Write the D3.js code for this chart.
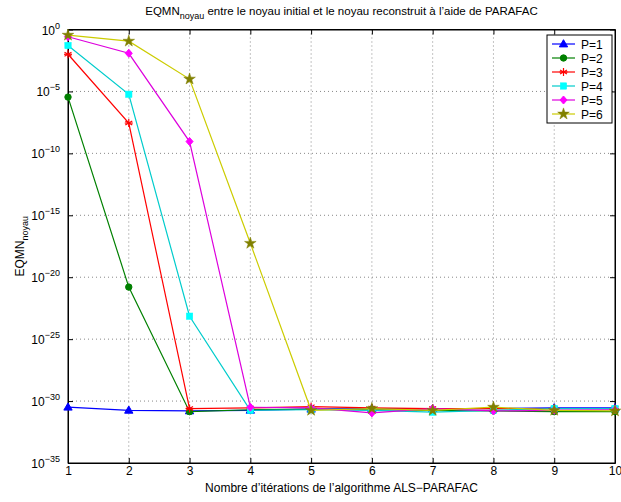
<!DOCTYPE html>
<html><head><meta charset="utf-8">
<script src="https://cdn.jsdelivr.net/npm/d3@7"></script>
<style>body{margin:0;background:#fff}svg{display:block;font-family:"Liberation Sans",Arial,sans-serif}</style>
</head><body>
<svg id="c" width="621" height="502"></svg>
<script>
const iterations = [1,2,3,4,5,6,7,8,9,10];
const seriesNames = ["P=1","P=2","P=3","P=4","P=5","P=6"];
const p1 = [3.2e-31,1.8e-31,1.6e-31,1.8e-31,2.2e-31,2.5e-31,2.5e-31,2.5e-31,2.8e-31,2.8e-31];
const p2 = [3.5e-6,1.6e-21,1.4e-31,2.0e-31,2.2e-31,2.0e-31,1.8e-31,1.6e-31,1.4e-31,1.4e-31];
const p3 = [1.0e-2,2.8e-8,2.5e-31,2.8e-31,3.5e-31,2.8e-31,2.5e-31,2.5e-31,2.5e-31,2.5e-31];
const p4 = [5.1e-2,5.9e-6,7.1e-24,1.8e-31,2.0e-31,1.8e-31,1.26e-31,1.8e-31,2.5e-31,2.5e-31];
const p5 = [0.26,1.2e-2,9e-10,3.2e-31,2.8e-31,1.1e-31,2.5e-31,1.6e-31,1.8e-31,2.0e-31];
const p6 = [0.35,0.115,1.0e-4,5.5e-18,1.8e-31,2.5e-31,1.8e-31,3.2e-31,1.8e-31,1.6e-31];
const yTickExponents = [0,-5,-10,-15,-20,-25,-30,-35];
const xTicks = [1,2,3,4,5,6,7,8,9,10];
const lineColors = ["#0000ff","#008000","#ff0000","#00cccc","#dd00dd","#cccc00"];
const markerColors = ["#0000ff","#008000","#ff0000","#00ffff","#ff00ff","#808000"];
const markerTypes = ["tri","circle","star6","square","diamond","pent"];
const allSeries = [p1,p2,p3,p4,p5,p6];

const L=68, R=615, T=29.5, B=463;
const svg = d3.select("#c");
const x = d3.scaleLinear().domain([1,10]).range([L,R]);
const y = d3.scaleLog().domain([1e-35,1]).range([B,T]);

// grid
const g = svg.append("g");
xTicks.slice(1,-1).forEach(t=>{
  g.append("line").attr("x1",x(t)).attr("x2",x(t)).attr("y1",T).attr("y2",B)
   .attr("stroke","#888").attr("stroke-width",1).attr("stroke-dasharray","1,3");
});
yTickExponents.slice(1,-1).forEach(e=>{
  g.append("line").attr("x1",L).attr("x2",R).attr("y1",y(Math.pow(10,e))).attr("y2",y(Math.pow(10,e)))
   .attr("stroke","#888").attr("stroke-width",1).attr("stroke-dasharray","1,3");
});

// axes with inward ticks
const xAxisB = d3.axisBottom(x).tickValues(xTicks).tickSizeInner(-5).tickSizeOuter(0).tickPadding(3).tickFormat(d3.format("d"));
const xAxisT = d3.axisTop(x).tickValues(xTicks).tickSizeInner(-5).tickSizeOuter(0).tickFormat("");
const yVals = yTickExponents.map(e=>Math.pow(10,e));
const yAxisL = d3.axisLeft(y).tickValues(yVals).tickSizeInner(-5).tickSizeOuter(0).tickFormat("");
const yAxisR = d3.axisRight(y).tickValues(yVals).tickSizeInner(-5).tickSizeOuter(0).tickFormat("");
function styleAxis(sel){sel.selectAll("path").attr("stroke","#000").attr("stroke-width",1);sel.selectAll("line").attr("stroke","#000");sel.selectAll("text").attr("fill","#000").attr("font-size",12).attr("font-family","Liberation Sans, Arial, sans-serif");}
svg.append("g").attr("transform",`translate(0,${B})`).call(xAxisB).call(styleAxis);
svg.append("g").attr("transform",`translate(0,${T})`).call(xAxisT).call(styleAxis);
svg.append("g").attr("transform",`translate(${L},0)`).call(yAxisL).call(styleAxis);
svg.append("g").attr("transform",`translate(${R},0)`).call(yAxisR).call(styleAxis);
svg.append("rect").attr("x",L).attr("y",T).attr("width",R-L).attr("height",B-T).attr("fill","none").attr("stroke","#000").attr("stroke-width",1);

// y tick labels with superscripts
yTickExponents.forEach(e=>{
  const t = svg.append("text").attr("x",L-8).attr("y",y(Math.pow(10,e))+5).attr("text-anchor","end").attr("font-size",12);
  t.append("tspan").text("10");
  t.append("tspan").attr("dy",-6).attr("font-size",9).text(e===0?"0":"\u2212"+Math.abs(e));
});

// markers
function marker(sel, type, i, cx, cy){
  const mc = markerColors[i];
  if(type==="tri") sel.append("path").attr("d",d3.symbol(d3.symbolTriangle,30)()).attr("transform",`translate(${cx},${cy+0.5})`).attr("fill",mc).attr("stroke",mc);
  else if(type==="circle") sel.append("circle").attr("cx",cx).attr("cy",cy).attr("r",3.2).attr("fill",mc).attr("stroke",mc);
  else if(type==="square") sel.append("rect").attr("x",cx-3.2).attr("y",cy-3.2).attr("width",6.4).attr("height",6.4).attr("fill",mc).attr("stroke",mc).attr("stroke-width",0.5);
  else if(type==="diamond") sel.append("path").attr("d",`M${cx},${cy-4}L${cx+3.5},${cy}L${cx},${cy+4}L${cx-3.5},${cy}Z`).attr("fill",mc).attr("stroke",mc);
  else if(type==="pent") sel.append("path").attr("d",d3.symbol(d3.symbolStar,42)()).attr("transform",`translate(${cx},${cy})`).attr("fill",mc).attr("stroke",mc).attr("stroke-width",0.5);
  else if(type==="star6"){
    const r=4;
    [0,60,120].forEach(a=>{const rad=a*Math.PI/180;
      sel.append("line").attr("x1",cx-r*Math.sin(rad)).attr("y1",cy-r*Math.cos(rad)).attr("x2",cx+r*Math.sin(rad)).attr("y2",cy+r*Math.cos(rad)).attr("stroke",mc).attr("stroke-width",1.2);});
    sel.append("line").attr("x1",cx-r).attr("x2",cx+r).attr("y1",cy).attr("y2",cy).attr("stroke",mc).attr("stroke-width",1.2);
  }
}

const line = d3.line().x((d,i)=>x(iterations[i])).y(d=>y(d));
const plot = svg.append("g");
allSeries.forEach((s,i)=>{
  plot.append("path").attr("d",line(s)).attr("fill","none").attr("stroke",lineColors[i]).attr("stroke-width",1.2);
  s.forEach((v,j)=>marker(plot,markerTypes[i],i,x(iterations[j]),y(v)));
});

// legend
const lg = svg.append("g");
const lx=547, ly=35, lw=65, lh=88;
lg.append("rect").attr("x",lx).attr("y",ly).attr("width",lw).attr("height",lh).attr("fill","#fff").attr("stroke","#000");
seriesNames.forEach((n,i)=>{
  const yy = ly+9+i*14;
  lg.append("line").attr("x1",lx+5).attr("x2",lx+28).attr("y1",yy).attr("y2",yy).attr("stroke",lineColors[i]).attr("stroke-width",1.2);
  marker(lg,markerTypes[i],i,lx+16.5,yy);
  lg.append("text").attr("x",lx+34).attr("y",yy+4.5).attr("font-size",12).text(n);
});

// title
const tt = svg.append("text").attr("x",(L+R)/2).attr("y",15).attr("text-anchor","middle").attr("font-size",11.5);
tt.append("tspan").text("EQMN");
tt.append("tspan").attr("dy",4).attr("font-size",9).text("noyau");
tt.append("tspan").attr("dy",-4).text(" entre le noyau initial et le noyau reconstruit à l\u2019aide de PARAFAC");

// x label
svg.append("text").attr("x",(L+R)/2).attr("y",492).attr("text-anchor","middle").attr("font-size",12).text("Nombre d\u2019itérations de l\u2019algorithme ALS\u2212PARAFAC");

// y label
const yl = svg.append("text").attr("transform",`translate(24,${(T+B)/2}) rotate(-90)`).attr("text-anchor","middle").attr("font-size",12);
yl.append("tspan").text("EQMN");
yl.append("tspan").attr("dy",4).attr("font-size",9).text("noyau");
</script>
</body></html>
